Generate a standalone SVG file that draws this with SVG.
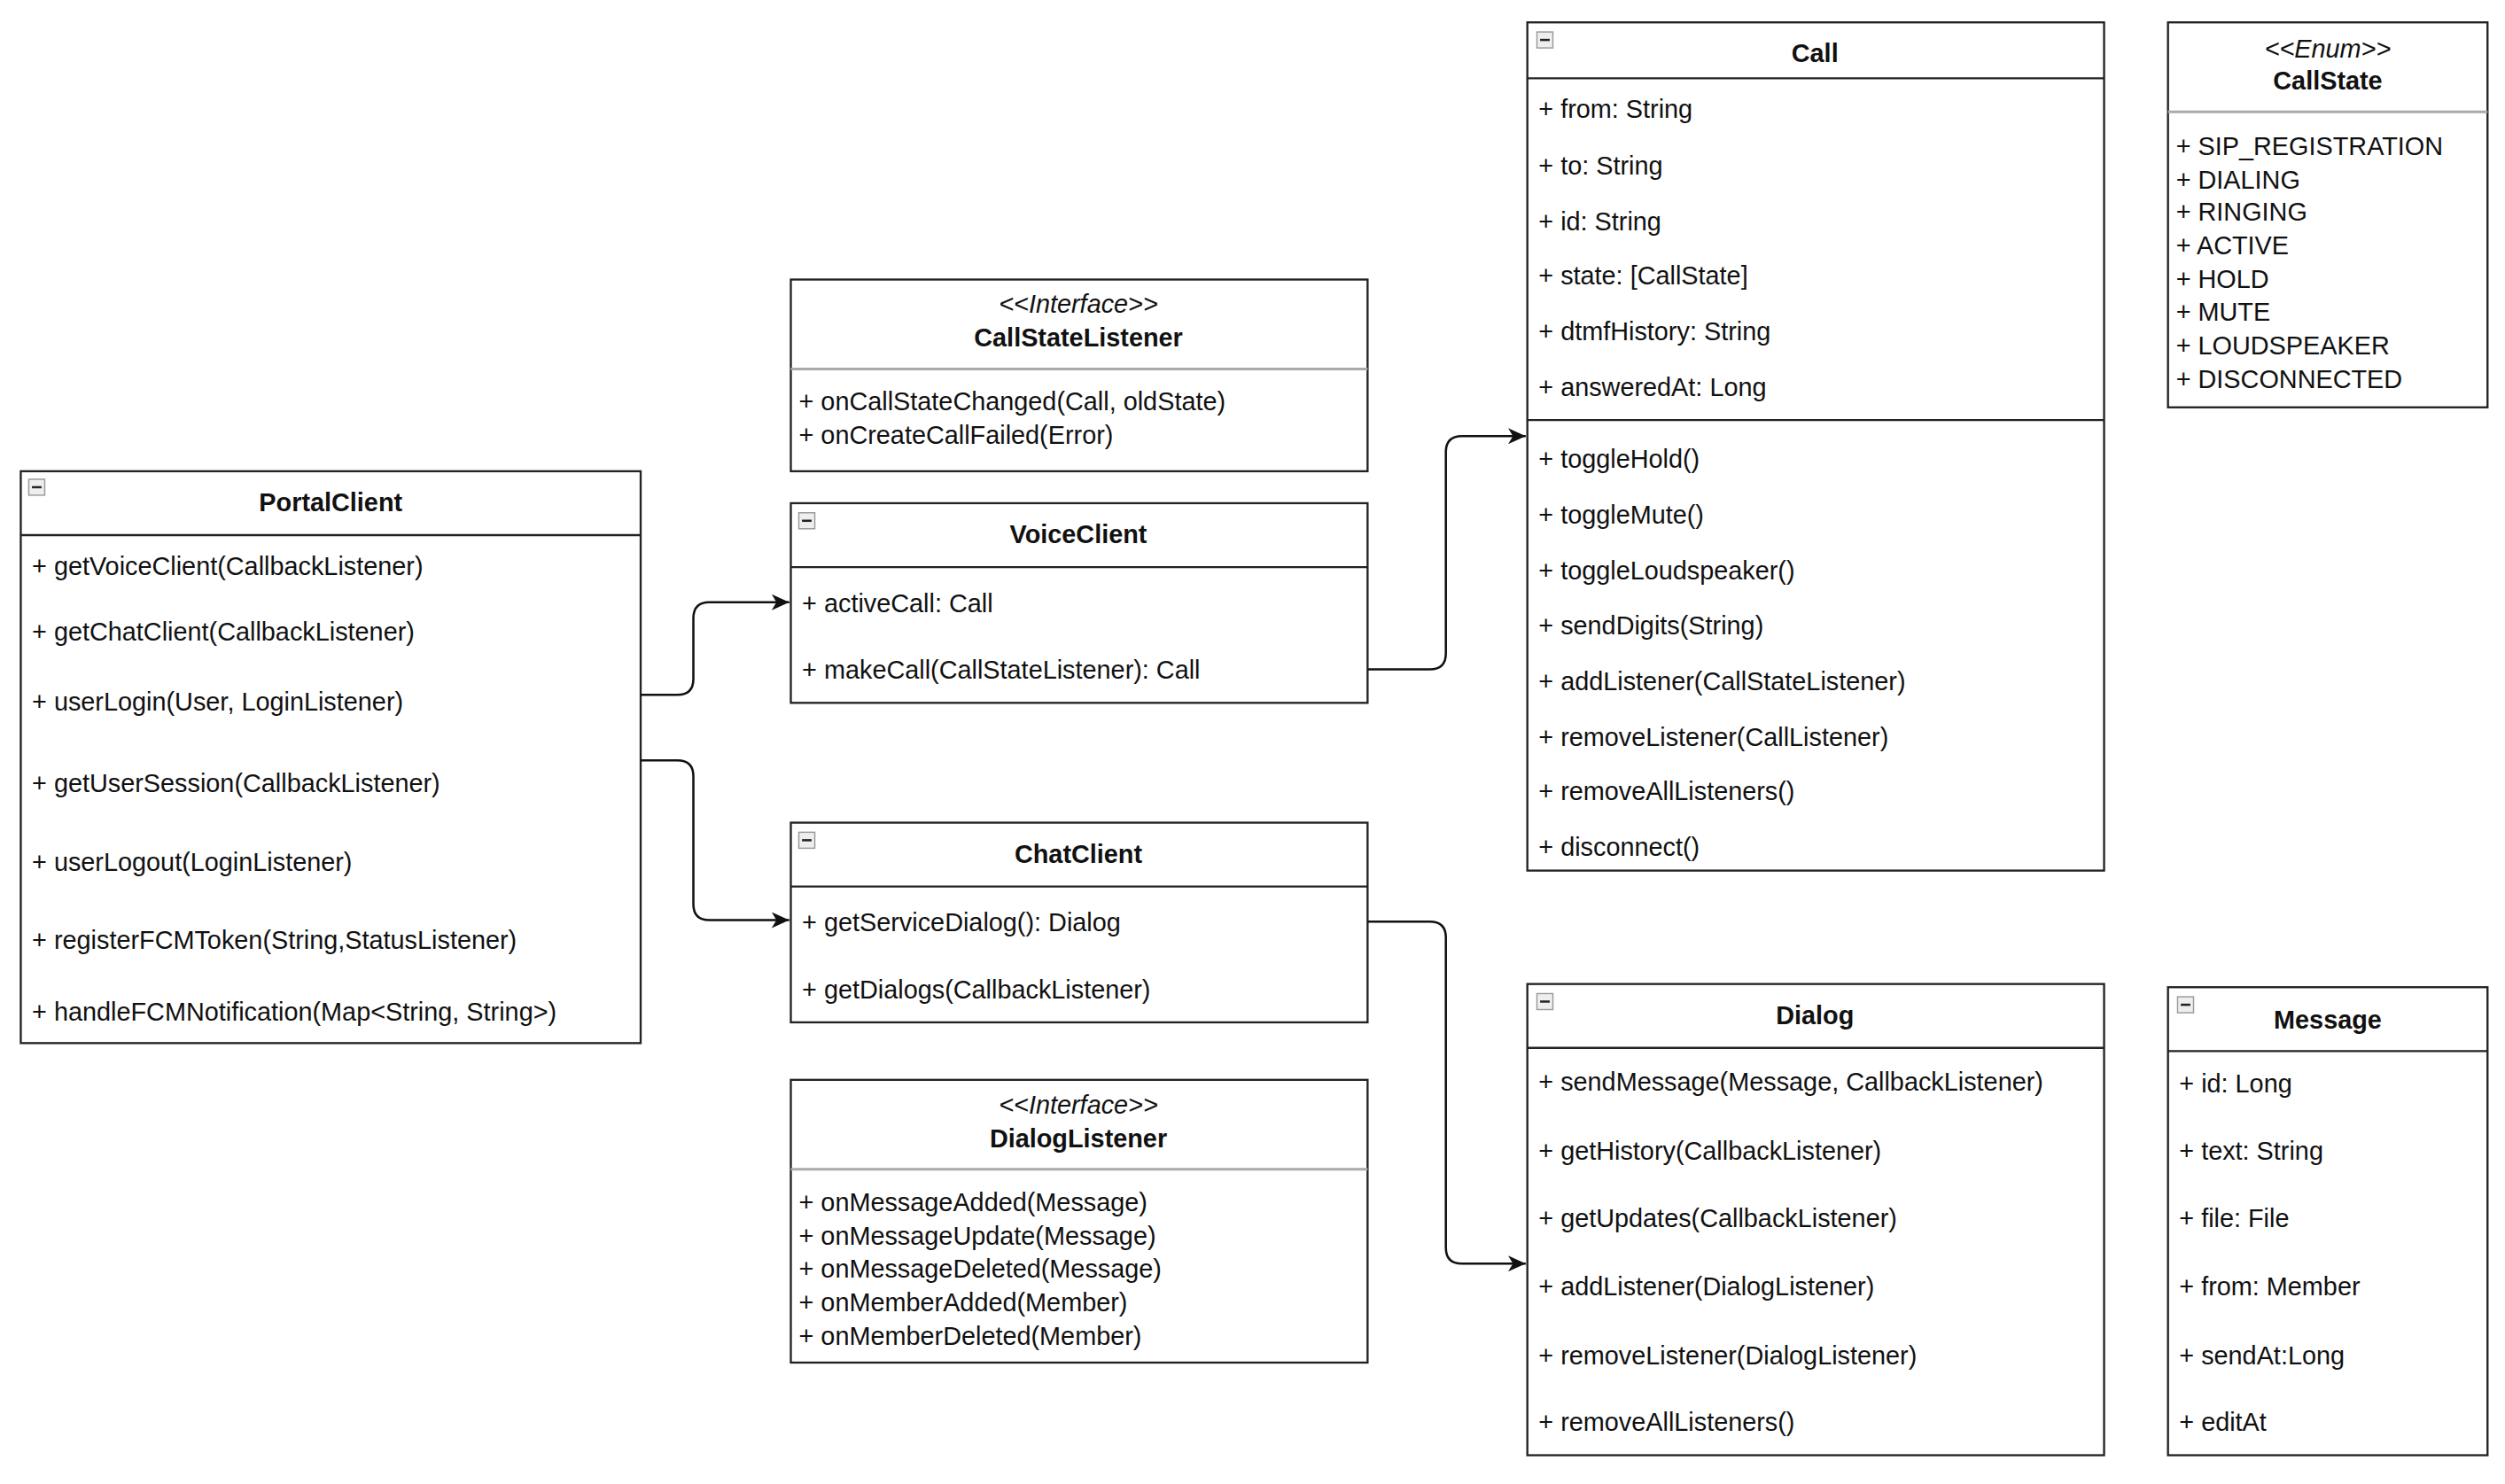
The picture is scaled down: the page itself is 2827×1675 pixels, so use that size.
<svg xmlns="http://www.w3.org/2000/svg" width="2827" height="1675" viewBox="0 0 2827 1675">
<style>
.b{fill:#fff;stroke:#222;stroke-width:1.3}
.s{stroke:#222;stroke-width:1.3}
.sg{stroke:#aaa;stroke-width:1.6}
text{font-family:"Liberation Sans",Arial,sans-serif;font-size:16px;fill:#111}
.h{font-weight:bold;text-anchor:middle}
.i{font-style:italic;text-anchor:middle}
.ic{fill:#eee;stroke:#999;stroke-width:0.8}
.c{fill:none;stroke:#111;stroke-width:1.4}
</style>
<defs>
<marker id="a" markerWidth="12" markerHeight="10" refX="11" refY="5" orient="auto" markerUnits="userSpaceOnUse"><path d="M0,0 L11,5 L0,10 L3,5 Z" fill="#111"/></marker>
<g id="mi"><rect class="ic" x="0" y="0" width="10" height="10"/><line x1="2" y1="5" x2="8" y2="5" stroke="#222" stroke-width="1.4"/></g>
</defs>
<rect width="2827" height="1675" fill="#fff"/>
<g transform="scale(1.803)">
<g id="PortalClient">
<rect class="b" x="13" y="295" width="388" height="358"/>
<line class="s" x1="13" y1="335" x2="401" y2="335"/>
<use href="#mi" x="18" y="300"/>
<text class="h" x="207" y="320">PortalClient</text>
<text x="20" y="360">+ getVoiceClient(CallbackListener)</text>
<text x="20" y="401">+ getChatClient(CallbackListener)</text>
<text x="20" y="445">+ userLogin(User, LoginListener)</text>
<text x="20" y="496">+ getUserSession(CallbackListener)</text>
<text x="20" y="545">+ userLogout(LoginListener)</text>
<text x="20" y="594">+ registerFCMToken(String,StatusListener)</text>
<text x="20" y="639">+ handleFCMNotification(Map&lt;String, String&gt;)</text>
</g>
<g id="CallStateListener">
<rect class="b" x="495" y="175" width="361" height="120"/>
<line class="sg" x1="495" y1="231" x2="856" y2="231"/>
<text class="i" x="675" y="196">&lt;&lt;Interface&gt;&gt;</text>
<text class="h" x="675" y="217">CallStateListener</text>
<text x="500" y="257">+ onCallStateChanged(Call, oldState)</text>
<text x="500" y="278">+ onCreateCallFailed(Error)</text>
</g>
<g id="VoiceClient">
<rect class="b" x="495" y="315" width="361" height="125"/>
<line class="s" x1="495" y1="355" x2="856" y2="355"/>
<use href="#mi" x="500" y="321"/>
<text class="h" x="675" y="340">VoiceClient</text>
<text x="502" y="383">+ activeCall: Call</text>
<text x="502" y="425">+ makeCall(CallStateListener): Call</text>
</g>
<g id="ChatClient">
<rect class="b" x="495" y="515" width="361" height="125"/>
<line class="s" x1="495" y1="555" x2="856" y2="555"/>
<use href="#mi" x="500" y="521"/>
<text class="h" x="675" y="540">ChatClient</text>
<text x="502" y="583">+ getServiceDialog(): Dialog</text>
<text x="502" y="625">+ getDialogs(CallbackListener)</text>
</g>
<g id="DialogListener">
<rect class="b" x="495" y="676" width="361" height="177"/>
<line class="sg" x1="495" y1="732" x2="856" y2="732"/>
<text class="i" x="675" y="697">&lt;&lt;Interface&gt;&gt;</text>
<text class="h" x="675" y="718">DialogListener</text>
<text x="500" y="758">+ onMessageAdded(Message)</text>
<text x="500" y="779">+ onMessageUpdate(Message)</text>
<text x="500" y="800">+ onMessageDeleted(Message)</text>
<text x="500" y="821">+ onMemberAdded(Member)</text>
<text x="500" y="842">+ onMemberDeleted(Member)</text>
</g>
<g id="Call">
<rect class="b" x="956" y="14" width="361" height="531"/>
<line class="s" x1="956" y1="49" x2="1317" y2="49"/>
<line class="s" x1="956" y1="263" x2="1317" y2="263"/>
<use href="#mi" x="962" y="20"/>
<text class="h" x="1136" y="39">Call</text>
<text x="963" y="74">+ from: String</text>
<text x="963" y="109">+ to: String</text>
<text x="963" y="144">+ id: String</text>
<text x="963" y="178">+ state: [CallState]</text>
<text x="963" y="213">+ dtmfHistory: String</text>
<text x="963" y="248">+ answeredAt: Long</text>
<text x="963" y="293">+ toggleHold()</text>
<text x="963" y="328">+ toggleMute()</text>
<text x="963" y="363">+ toggleLoudspeaker()</text>
<text x="963" y="397">+ sendDigits(String)</text>
<text x="963" y="432">+ addListener(CallStateListener)</text>
<text x="963" y="467">+ removeListener(CallListener)</text>
<text x="963" y="501">+ removeAllListeners()</text>
<text x="963" y="536">+ disconnect()</text>
</g>
<g id="CallState">
<rect class="b" x="1357" y="14" width="200" height="241"/>
<line class="sg" x1="1357" y1="70" x2="1557" y2="70"/>
<text class="i" x="1457" y="36">&lt;&lt;Enum&gt;&gt;</text>
<text class="h" x="1457" y="56">CallState</text>
<text x="1362" y="97">+ SIP_REGISTRATION</text>
<text x="1362" y="118">+ DIALING</text>
<text x="1362" y="138">+ RINGING</text>
<text x="1362" y="159">+ ACTIVE</text>
<text x="1362" y="180">+ HOLD</text>
<text x="1362" y="201">+ MUTE</text>
<text x="1362" y="222">+ LOUDSPEAKER</text>
<text x="1362" y="243">+ DISCONNECTED</text>
</g>
<g id="Dialog">
<rect class="b" x="956" y="616" width="361" height="295"/>
<line class="s" x1="956" y1="656" x2="1317" y2="656"/>
<use href="#mi" x="962" y="622"/>
<text class="h" x="1136" y="641">Dialog</text>
<text x="963" y="683">+ sendMessage(Message, CallbackListener)</text>
<text x="963" y="726">+ getHistory(CallbackListener)</text>
<text x="963" y="768">+ getUpdates(CallbackListener)</text>
<text x="963" y="811">+ addListener(DialogListener)</text>
<text x="963" y="854">+ removeListener(DialogListener)</text>
<text x="963" y="896">+ removeAllListeners()</text>
</g>
<g id="Message">
<rect class="b" x="1357" y="618" width="200" height="293"/>
<line class="s" x1="1357" y1="658" x2="1557" y2="658"/>
<use href="#mi" x="1363" y="624"/>
<text class="h" x="1457" y="644">Message</text>
<text x="1364" y="684">+ id: Long</text>
<text x="1364" y="726">+ text: String</text>
<text x="1364" y="768">+ file: File</text>
<text x="1364" y="811">+ from: Member</text>
<text x="1364" y="854">+ sendAt:Long</text>
<text x="1364" y="896">+ editAt</text>
</g>
</g>
<g id="connectors" transform="scale(1.803)">
<path class="c" marker-end="url(#a)" d="M401,435 H424 Q434,435 434,425 V387 Q434,377 444,377 H494"/>
<path class="c" marker-end="url(#a)" d="M401,476 H424 Q434,476 434,486 V566 Q434,576 444,576 H494"/>
<path class="c" marker-end="url(#a)" d="M856,419 H895 Q905,419 905,409 V283 Q905,273 915,273 H955"/>
<path class="c" marker-end="url(#a)" d="M856,577 H895 Q905,577 905,587 V781 Q905,791 915,791 H955"/>
</g>
</svg>
